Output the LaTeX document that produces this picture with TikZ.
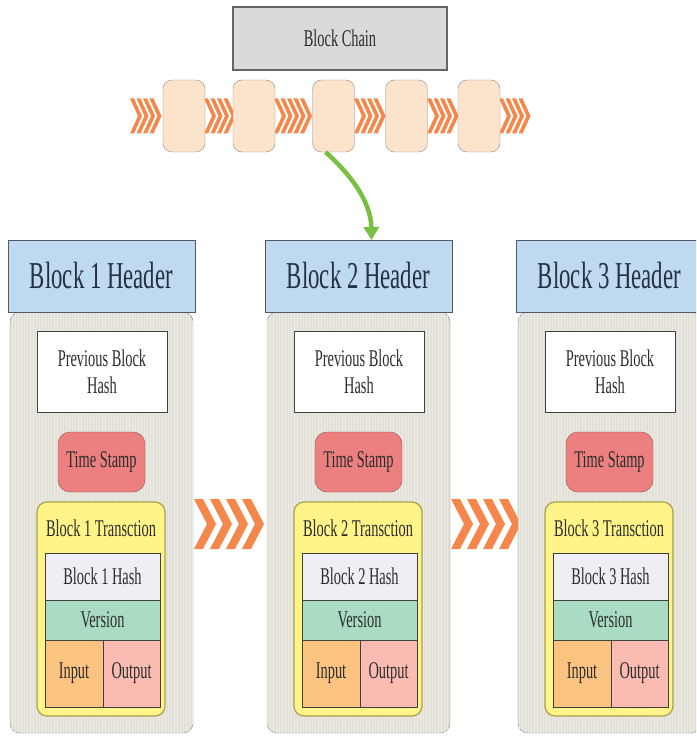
\documentclass[tikz,border=0pt]{standalone}
\usepackage{fontspec}
\setmainfont{Liberation Serif}
\newfontfamily\slimserif[FakeStretch=0.6]{Liberation Serif}
\usetikzlibrary{arrows.meta,patterns}

\definecolor{txtgray}{RGB}{45,45,45}
\definecolor{hdrtext}{RGB}{35,50,65}
\definecolor{hdrblue}{RGB}{191,217,240}
\definecolor{hdrline}{RGB}{80,90,100}
\definecolor{bodygray}{RGB}{226,224,215}
\definecolor{bodyline}{RGB}{130,130,125}
\definecolor{stampred}{RGB}{236,128,128}
\definecolor{stampline}{RGB}{150,80,80}
\definecolor{transyellow}{RGB}{255,244,135}
\definecolor{transline}{RGB}{170,160,80}
\definecolor{hashgray}{RGB}{238,238,244}
\definecolor{versiongreen}{RGB}{170,220,196}
\definecolor{inorange}{RGB}{250,196,128}
\definecolor{outpink}{RGB}{250,188,178}
\definecolor{peach}{RGB}{252,228,204}
\definecolor{chaingray}{RGB}{218,218,216}
\definecolor{chevorange}{RGB}{245,125,60}
\definecolor{arrowgreen}{RGB}{120,192,66}

% row of chevrons: x0, y centre, count, pitch, tip, thickness, height
\newcommand{\chevrow}[7]{%
  \foreach \k in {1,...,#3}{
    \pgfmathsetmacro{\cx}{#1+(\k-1)*#4}
    \fill[chevorange,opacity=0.92] (\cx,#2-#7/2) -- ++(#6,0) -- ++(#5,#7/2) -- ++(-#5,#7/2) -- ++(-#6,0) -- ++(#5,-#7/2) -- cycle;
  }}

\begin{document}
\begin{tikzpicture}[x=1pt,y=-1pt,
    every node/.style={font=\slimserif\fontsize{24}{27}\selectfont, text=txtgray, inner sep=0pt, outer sep=0pt},
    box/.style={draw=black!75, anchor=north west, align=center},
    hdrbox/.style={box, draw=hdrline, fill=hdrblue, text=hdrtext, minimum width=187pt, minimum height=72pt, font=\slimserif\fontsize{38}{40}\selectfont},
    bodybox/.style={box, draw=bodyline, fill=bodygray, rounded corners=10pt, minimum width=183pt, minimum height=421pt,
        postaction={pattern=vertical lines, pattern color=white!35!bodygray}},
    chainblk/.style={draw=black!45, fill=peach, rounded corners=9pt, minimum width=42pt, minimum height=72pt},
    greenarrow/.style={draw=arrowgreen, line width=4.5pt, -{Triangle[width=15pt,length=13pt]}}
]
    \useasboundingbox (0,0) rectangle (696,738);
    \clip (0,0) rectangle (696,738);
    \fill[white] (0,0) rectangle (696,738);

    % top chain
    \node[box, fill=chaingray, draw=black!60, line width=1.2pt, minimum width=214pt, minimum height=63pt] (chainbox) at (233,7) {Block Chain};

    \chevrow{130}{116}{4}{6.5}{8}{4}{35}
    \chevrow{204}{116}{4}{6.5}{8}{4}{35}
    \chevrow{274}{116}{5}{6.5}{8}{4}{35}
    \chevrow{354}{116}{4}{6.5}{8}{4}{35}
    \chevrow{427}{116}{4}{6.5}{8}{4}{35}
    \chevrow{499}{116}{4}{6.5}{8}{4}{35}

    \foreach \j/\cx in {1/184, 2/254, 3/333.5, 4/406.5, 5/479}
        \node[chainblk] (chain\j) at (\cx,116) {};

    % big chevrons between the blocks
    \chevrow{194}{524}{4}{16}{13}{9}{50}
    \chevrow{451}{524}{4}{16}{13}{9}{50}

    % the three blocks
    \foreach \i/\bx in {1/8, 2/265, 3/516}{
        \node[bodybox] (body\i) at (\bx+2,312) {};
        \node[hdrbox] (hdr\i) at (\bx,240) {Block \i{} Header};
        \node[box, fill=white, minimum width=130pt, minimum height=81pt] (prev\i) at (\bx+29,331) {Previous Block\\Hash};
        \node[box, draw=stampline, fill=stampred, rounded corners=12pt, minimum width=87pt, minimum height=60pt] (stamp\i) at (\bx+50,432) {Time Stamp};
        \node[box, draw=transline, fill=transyellow, line width=1.2pt, rounded corners=10pt, minimum width=128pt, minimum height=214pt] (trans\i) at (\bx+29,502) {};
        \node (ttl\i) at (\bx+93,528) {Block \i{} Transction};
        \node[box, fill=hashgray, minimum width=115pt, minimum height=47pt] (hash\i) at (\bx+37,553) {Block \i{} Hash};
        \node[box, fill=versiongreen, minimum width=115pt, minimum height=40pt] (ver\i) at (\bx+37,600) {Version};
        \node[box, fill=inorange, minimum width=58pt, minimum height=67pt] (in\i) at (\bx+37,640) {Input};
        \node[box, fill=outpink, minimum width=57pt, minimum height=67pt] (out\i) at (\bx+95,640) {Output};
    }

    % chain block 3 expands into block 2
    \draw[greenarrow] ([xshift=-8pt]chain3.south) .. controls (348,172) and (371,200) .. ([xshift=13pt]hdr2.north);
\end{tikzpicture}
\end{document}
